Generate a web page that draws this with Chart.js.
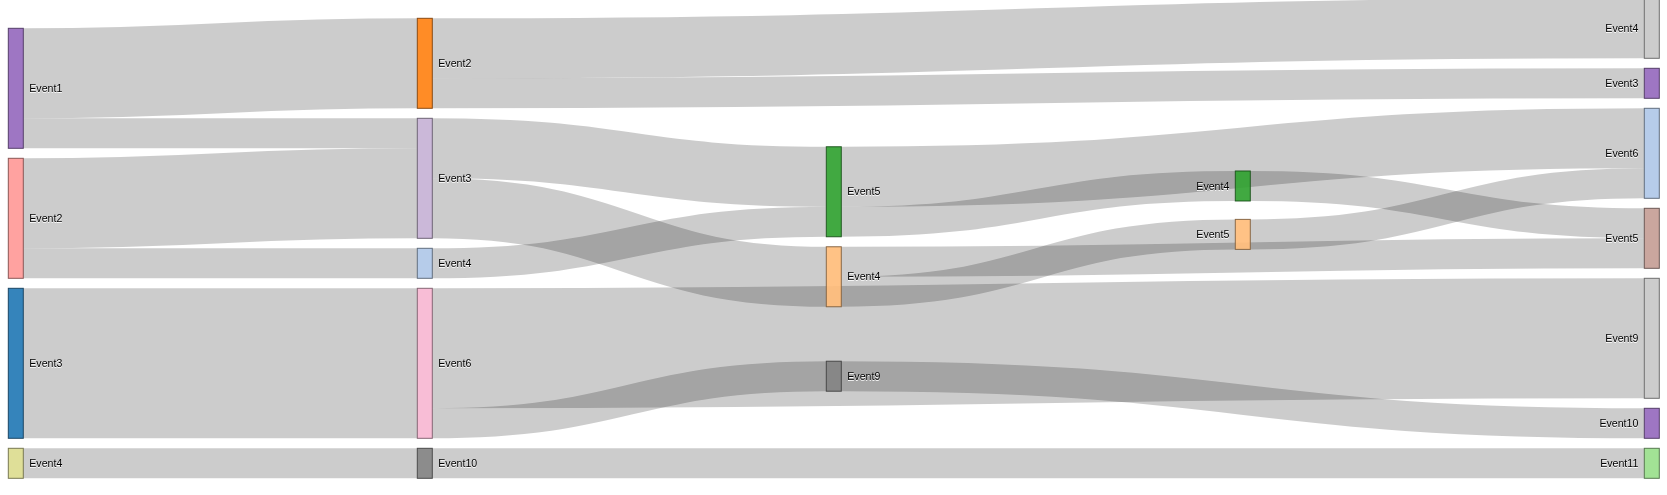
<!DOCTYPE html>
<html>
<head>
<meta charset="utf-8">
<script src="https://cdn.jsdelivr.net/npm/chart.js@4.4.1/dist/chart.umd.min.js"></script>
<style>
  html, body { margin: 0; padding: 0; background: #fff; }
  #wrap { width: 1667px; height: 495px; }
</style>
</head>
<body>
<div id="wrap"><canvas id="sankey" width="1667" height="495"></canvas></div>
<script>
// nodes, listed column by column (top to bottom)
const nodeNames = [
  'Event1', 'Event2', 'Event3', 'Event4',
  'Event2', 'Event3', 'Event4', 'Event6', 'Event10',
  'Event5', 'Event4', 'Event9',
  'Event4', 'Event5',
  'Event4', 'Event3', 'Event6', 'Event5', 'Event9', 'Event10', 'Event11'
];
const nodeColors = [
  '#9467bd', '#ff9896', '#1f77b4', '#dbdb8d',
  '#ff7f0e', '#c5b0d5', '#aec7e8', '#f7b6d2', '#7f7f7f',
  '#2ca02c', '#ffbb78', '#7f7f7f',
  '#2ca02c', '#ffbb78',
  '#c7c7c7', '#9467bd', '#aec7e8', '#c49c94', '#c7c7c7', '#9467bd', '#98df8a'
];

// links (index into nodeNames)
const linkSource = [0, 0, 1, 1, 2, 3, 4, 4, 5, 5, 6, 7, 7, 8, 9, 9, 10, 10, 11, 12, 13];
const linkTarget = [4, 5, 5, 6, 7, 8, 14, 15, 9, 10, 9, 18, 11, 20, 16, 12, 13, 17, 19, 17, 16];
const linkValue  = [3, 1, 3, 1, 5, 1, 2, 1, 2, 2, 1, 4, 1, 1, 2, 1, 1, 1, 1, 1, 1];

const W = 1651, H = 480, NODE_W = 15, NODE_PAD = 10, FONT_SIZE = 10.6;

// d3-sankey (v3 style) layout
function sum(arr, f) { return arr.reduce((s, d) => s + f(d), 0); }

function layoutSankey() {
  const nodes = nodeNames.map((name, i) => ({ name, color: nodeColors[i], sourceLinks: [], targetLinks: [] }));
  const links = linkValue.map((value, i) => ({ source: nodes[linkSource[i]], target: nodes[linkTarget[i]], value }));
  links.forEach(l => { l.source.sourceLinks.push(l); l.target.targetLinks.push(l); });
  nodes.forEach(n => {
    n.value = Math.max(sum(n.sourceLinks, l => l.value), sum(n.targetLinks, l => l.value));
  });

  // breadths
  let remaining = nodes, x = 0;
  while (remaining.length) {
    const next = [];
    remaining.forEach(n => {
      n.col = x;
      n.sourceLinks.forEach(l => { if (next.indexOf(l.target) < 0) next.push(l.target); });
    });
    remaining = next;
    x++;
  }
  nodes.forEach(n => { if (!n.sourceLinks.length) n.col = x - 1; });
  const kx = (W - NODE_W) / (x - 1);
  nodes.forEach(n => { n.x = n.col * kx; });

  // group by x, keys sorted as strings (like d3.nest)
  const groups = {};
  nodes.forEach(n => { (groups[String(n.x)] = groups[String(n.x)] || []).push(n); });
  const byCol = Object.keys(groups).sort().map(k => groups[k]);

  const ky = Math.min(...byCol.map(c => (H - (c.length - 1) * NODE_PAD) / sum(c, n => n.value)));
  byCol.forEach(c => c.forEach((n, i) => { n.y = i; n.dy = n.value * ky; }));
  links.forEach(l => { l.dy = l.value * ky; });

  const center = n => n.y + n.dy / 2;
  function resolveCollisions() {
    byCol.forEach(c => {
      let y0 = 0, node;
      c.sort((a, b) => a.y - b.y);
      for (let i = 0; i < c.length; i++) {
        node = c[i];
        const d = y0 - node.y;
        if (d > 0) node.y += d;
        y0 = node.y + node.dy + NODE_PAD;
      }
      let d = y0 - NODE_PAD - H;
      if (d > 0) {
        y0 = node.y -= d;
        for (let i = c.length - 2; i >= 0; i--) {
          node = c[i];
          d = node.y + node.dy + NODE_PAD - y0;
          if (d > 0) node.y -= d;
          y0 = node.y;
        }
      }
    });
  }
  function relaxLeftToRight(alpha) {
    byCol.forEach(c => c.forEach(n => {
      if (n.targetLinks.length) {
        const y = sum(n.targetLinks, l => center(l.source) * l.value) / sum(n.targetLinks, l => l.value);
        n.y += (y - center(n)) * alpha;
      }
    }));
  }
  function relaxRightToLeft(alpha) {
    byCol.slice().reverse().forEach(c => c.forEach(n => {
      if (n.sourceLinks.length) {
        const y = sum(n.sourceLinks, l => center(l.target) * l.value) / sum(n.sourceLinks, l => l.value);
        n.y += (y - center(n)) * alpha;
      }
    }));
  }
  resolveCollisions();
  let alpha = 1;
  for (let it = 32; it > 0; it--) {
    relaxRightToLeft(alpha *= 0.99);
    resolveCollisions();
    relaxLeftToRight(alpha);
    resolveCollisions();
  }

  // link depths
  nodes.forEach(n => {
    n.sourceLinks.sort((a, b) => a.target.y - b.target.y);
    n.targetLinks.sort((a, b) => a.source.y - b.source.y);
  });
  nodes.forEach(n => {
    let sy = 0, ty = 0;
    n.sourceLinks.forEach(l => { l.sy = sy; sy += l.dy; });
    n.targetLinks.forEach(l => { l.ty = ty; ty += l.dy; });
  });
  return { nodes, links };
}

const graph = layoutSankey();

function darker(hex, k) {
  const f = Math.pow(0.7, k);
  const v = parseInt(hex.slice(1), 16);
  const r = Math.round(((v >> 16) & 255) * f), g = Math.round(((v >> 8) & 255) * f), b = Math.round((v & 255) * f);
  return `rgb(${r},${g},${b})`;
}

const sankeyPlugin = {
  id: 'sankey',
  afterDatasetsDraw(chart) {
    const { ctx, scales: { x, y } } = chart;
    const px = v => x.getPixelForValue(v);
    const py = v => y.getPixelForValue(v);
    ctx.save();

    // links
    ctx.strokeStyle = 'rgba(0,0,0,0.2)';
    ctx.lineCap = 'butt';
    graph.links.forEach(l => {
      const x0 = px(l.source.x + NODE_W), x1 = px(l.target.x);
      const xm = (x0 + x1) / 2;
      const y0 = py(l.source.y + l.sy + l.dy / 2), y1 = py(l.target.y + l.ty + l.dy / 2);
      ctx.lineWidth = Math.max(1, Math.abs(py(l.dy) - py(0)));
      ctx.beginPath();
      ctx.moveTo(x0, y0);
      ctx.bezierCurveTo(xm, y0, xm, y1, x1, y1);
      ctx.stroke();
    });

    // nodes
    ctx.globalAlpha = 0.9;
    ctx.lineWidth = 1;
    graph.nodes.forEach(n => {
      const left = px(n.x), top = py(n.y);
      const w = px(n.x + NODE_W) - left, h = py(n.y + n.dy) - top;
      ctx.fillStyle = n.color;
      ctx.fillRect(left, top, w, h);
      ctx.strokeStyle = darker(n.color, 2);
      ctx.strokeRect(left, top, w, h);
    });
    ctx.globalAlpha = 1;

    // labels (baseline at centre + .35em, as in svg)
    ctx.font = FONT_SIZE + 'px "Liberation Sans", Arial, sans-serif';
    ctx.textBaseline = 'alphabetic';
    graph.nodes.forEach(n => {
      const by = py(n.y + n.dy / 2) + 0.35 * FONT_SIZE;
      const rightSide = n.x < W / 2;
      ctx.textAlign = rightSide ? 'left' : 'right';
      const tx = rightSide ? px(n.x + NODE_W) + 6 : px(n.x) - 6;
      ctx.fillStyle = '#fff';
      ctx.fillText(n.name, tx, by + 1);
      ctx.fillStyle = '#000';
      ctx.fillText(n.name, tx, by);
    });
    ctx.restore();
  }
};

new Chart(document.getElementById('sankey').getContext('2d'), {
  type: 'scatter',
  data: { datasets: [] },
  options: {
    responsive: false,
    animation: false,
    layout: { padding: 0 },
    plugins: { legend: { display: false }, tooltip: { enabled: false } },
    scales: {
      x: { type: 'linear', display: false, min: -8.3, max: 1658.7 },
      y: { type: 'linear', display: false, reverse: true, min: 1.7, max: 496.7 }
    }
  },
  plugins: [sankeyPlugin]
});
</script>
</body>
</html>
